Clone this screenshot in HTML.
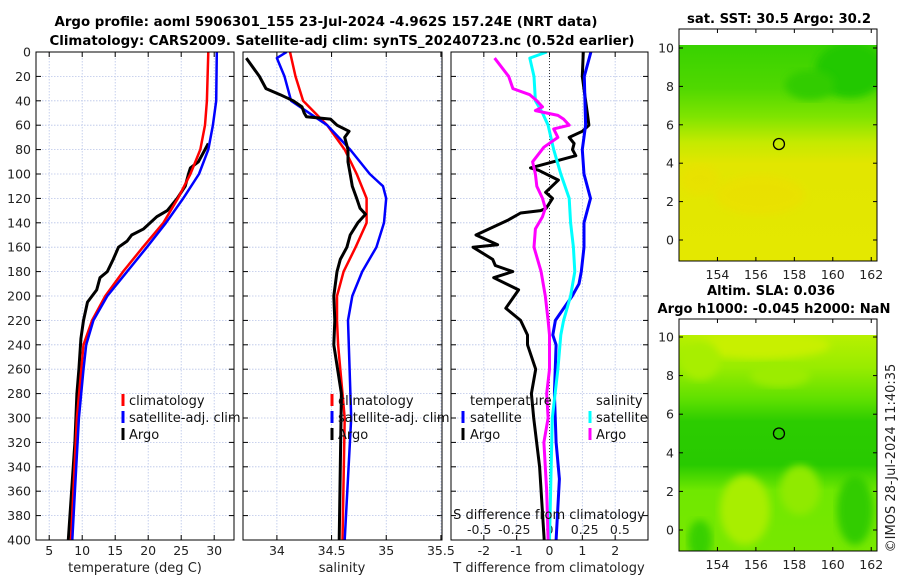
<!DOCTYPE html>
<html><head><meta charset="utf-8">
<style>
body{margin:0;background:#fff;}
svg{display:block;font-family:"DejaVu Sans","Liberation Sans",sans-serif;}
</style></head>
<body>
<svg id="fig" width="900" height="580" viewBox="0 0 900 580" xmlns="http://www.w3.org/2000/svg">
<defs>
<linearGradient id="sstg" x1="0" y1="0" x2="0" y2="1">
<stop offset="0" stop-color="#38d200"/><stop offset="0.2" stop-color="#50d800"/><stop offset="0.33" stop-color="#7ee400"/><stop offset="0.45" stop-color="#c4ea00"/><stop offset="0.55" stop-color="#e2e600"/><stop offset="1" stop-color="#e4e800"/>
</linearGradient>
<linearGradient id="slag" x1="0" y1="0" x2="0" y2="1">
<stop offset="0" stop-color="#b8f000"/><stop offset="0.15" stop-color="#98ec00"/><stop offset="0.3" stop-color="#5ee000"/><stop offset="0.4" stop-color="#2ccc00"/><stop offset="0.6" stop-color="#28ca00"/><stop offset="0.72" stop-color="#70e800"/><stop offset="1" stop-color="#78e800"/>
</linearGradient>
<filter id="blur"><feGaussianBlur stdDeviation="4"/></filter>
<clipPath id="c1"><rect x="36" y="52" width="198" height="488"/></clipPath>
<clipPath id="c2"><rect x="243" y="52" width="199" height="488"/></clipPath>
<clipPath id="c3"><rect x="451" y="52" width="197" height="488"/></clipPath>
<clipPath id="cm1"><rect x="679" y="45" width="198" height="216"/></clipPath>
<clipPath id="cm2"><rect x="679" y="335" width="198" height="216"/></clipPath>
</defs>
<g id="titles" font-weight="bold" font-size="13.5" text-anchor="middle">
<text x="326" y="26" textLength="543" lengthAdjust="spacingAndGlyphs">Argo profile: aoml 5906301_155 23-Jul-2024 -4.962S 157.24E (NRT data)</text>
<text x="342" y="45" textLength="585" lengthAdjust="spacingAndGlyphs">Climatology: CARS2009. Satellite-adj clim: synTS_20240723.nc (0.52d earlier)</text>
<text x="779" y="23" textLength="184" lengthAdjust="spacingAndGlyphs">sat. SST: 30.5 Argo: 30.2</text>
<text x="771" y="295" textLength="128" lengthAdjust="spacingAndGlyphs">Altim. SLA: 0.036</text>
<text x="774" y="313" textLength="233" lengthAdjust="spacingAndGlyphs">Argo h1000: -0.045 h2000: NaN</text>
</g>
<g id="axes"></g>
<g id="maps">
<rect x="679" y="29" width="198" height="232" fill="#fff" stroke="#000"/>
<g clip-path="url(#cm1)">
<rect x="679" y="45" width="198" height="216" fill="url(#sstg)"/>
<ellipse cx="850" cy="70" rx="35" ry="28" fill="#20c800" filter="url(#blur)"/>
<ellipse cx="810" cy="85" rx="25" ry="15" fill="#30cc00" filter="url(#blur)"/>
<ellipse cx="760" cy="195" rx="45" ry="20" fill="#f0dc00" filter="url(#blur)" opacity="0.5"/>
<ellipse cx="700" cy="180" rx="20" ry="15" fill="#f0dc00" filter="url(#blur)" opacity="0.4"/>
</g>
<rect x="679" y="319" width="198" height="232" fill="#fff" stroke="#000"/>
<g clip-path="url(#cm2)">
<rect x="679" y="335" width="198" height="216" fill="url(#slag)"/>
<ellipse cx="760" cy="345" rx="70" ry="14" fill="#c8f000" filter="url(#blur)"/>
<ellipse cx="700" cy="360" rx="20" ry="20" fill="#a8ee00" filter="url(#blur)"/>
<ellipse cx="780" cy="375" rx="30" ry="12" fill="#9cec00" filter="url(#blur)"/>
<ellipse cx="745" cy="510" rx="25" ry="35" fill="#a8ee00" filter="url(#blur)"/>
<ellipse cx="800" cy="490" rx="20" ry="25" fill="#90ea00" filter="url(#blur)"/>
<ellipse cx="855" cy="510" rx="18" ry="35" fill="#30cc00" filter="url(#blur)"/>
<ellipse cx="700" cy="540" rx="12" ry="20" fill="#38d000" filter="url(#blur)"/>
</g>
<rect x="679" y="29" width="198" height="232" fill="none" stroke="#000"/>
<rect x="679" y="319" width="198" height="232" fill="none" stroke="#000"/>
</g>
<text x="895" y="458" font-size="13" text-anchor="middle" transform="rotate(-90 895 458)" fill="#222">©IMOS 28-Jul-2024 11:40:35</text>
</svg>
<script>
// ---- data (depth in m) ----
const climT_depth=[0,20,40,60,80,100,120,140,160,180,200,220,240,300,400];
const climT_val=[29.1,29.0,28.9,28.6,27.9,26.4,24.5,22.3,19.2,16.2,13.5,11.5,10.2,9.2,8.3];
const satT_depth=[0,40,60,80,100,120,140,160,180,200,220,240,260,300,360,400];
const satT_val=[30.4,30.3,29.8,29.1,27.7,25.3,22.7,19.8,16.8,13.8,11.7,10.6,10.2,9.5,8.9,8.5];
const argoT_depth=[75,90,95,100,110,120,130,135,145,150,155,160,170,180,185,195,205,220,235,260,280,320,360,400];
const argoT_val=[29.1,27.6,26.4,26.1,25.6,24.4,22.9,21.3,19.3,17.5,16.8,15.5,14.7,13.8,12.7,12.2,10.8,10.2,9.8,9.5,9.2,8.9,8.4,7.9];
const climS_depth=[0,20,40,60,80,100,120,140,160,180,200,220,240,300,400];
const climS_val=[34.12,34.17,34.24,34.46,34.62,34.73,34.82,34.82,34.72,34.61,34.55,34.55,34.56,34.62,34.6];
const satS_depth=[0,5,20,40,60,80,100,110,120,140,160,180,200,220,300,400];
const satS_val=[34.09,34.0,34.07,34.13,34.46,34.67,34.85,34.97,35.0,34.98,34.91,34.78,34.69,34.65,34.68,34.62];
const argoS_depth=[5,20,30,35,40,45,50,53,55,60,65,70,80,90,100,110,120,128,133,140,150,160,170,180,200,220,240,280,400];
const argoS_val=[33.72,33.84,33.9,34.03,34.15,34.23,34.25,34.27,34.49,34.55,34.66,34.62,34.65,34.65,34.67,34.69,34.73,34.76,34.81,34.74,34.67,34.64,34.58,34.55,34.52,34.53,34.52,34.59,34.57];
const satdT_depth=[0,20,60,80,100,120,140,160,180,190,200,220,232,240,280,320,350,400];
const satdT_val=[1.26,1.06,1.1,1.0,1.05,1.25,1.05,1.05,0.97,0.9,0.69,0.18,0.1,0.2,0.15,0.2,0.3,0.2];
const argodT_depth=[0,20,40,50,60,65,70,75,80,85,95,97,105,115,120,128,130,132,138,150,158,160,170,175,180,185,195,210,220,232,240,260,280,300,340,400];
const argodT_val=[1.03,1.0,1.1,1.15,1.2,1.0,0.6,0.75,0.7,0.8,-0.58,-0.33,0.27,-0.12,0.09,-0.1,-0.27,-0.88,-1.28,-2.24,-1.58,-2.33,-1.73,-1.65,-1.12,-1.7,-0.94,-1.33,-0.88,-0.67,-0.67,-0.42,-0.55,-0.48,-0.3,-0.16];
const satdS_depth=[0,5,20,40,50,60,80,100,120,140,160,180,200,220,232,260,300,400];
const satdS_val=[-0.02,-0.14,-0.11,-0.1,-0.05,-0.01,0.03,0.08,0.14,0.15,0.17,0.18,0.15,0.1,0.08,0.06,0.02,0.0];
const argodS_depth=[5,20,30,35,40,45,48,52,55,60,63,70,78,90,100,110,120,128,135,145,160,180,200,220,232,260,280,300,320,360,400];
const argodS_val=[-0.39,-0.29,-0.26,-0.14,-0.09,-0.05,-0.1,0.06,0.1,0.14,0.03,0.06,-0.04,-0.12,-0.1,-0.09,-0.05,-0.03,-0.05,-0.1,-0.11,-0.06,-0.03,-0.01,0.0,0.0,-0.02,-0.01,-0.04,-0.02,-0.01];
const depthTicks=[0,20,40,60,80,100,120,140,160,180,200,220,240,260,280,300,320,340,360,380,400];
const tTicks=[5,10,15,20,25,30];
const sTicks=[34,34.5,35,35.5];
const sTickLabels=["34","34.5","35","35.5"];
const dTTicks=[-2,-1,0,1,2];
const dSTicks=[-0.5,-0.25,0,0.25,0.5];
const dSTickLabels=["-0.5","-0.25","0","0.25","0.5"];
const lonTicks=[154,156,158,160,162];
const latTicks=[0,2,4,6,8,10];
const argoLon=[157.2], argoLat=[5];

const NS='http://www.w3.org/2000/svg';
const svg=document.getElementById('fig');
const axes=document.getElementById('axes');
function mk(tag,attrs,parent){const e=document.createElementNS(NS,tag);for(const k in attrs)e.setAttribute(k,attrs[k]);(parent||axes).appendChild(e);return e;}
const Y0=52,Y1=540;
const yD=d=>Y0+d*(Y1-Y0)/400;
function xs(lo,hi,px0,px1){return v=>px0+(v-lo)*(px1-px0)/(hi-lo);}
const panels=[
 {x0:36,x1:234,clip:'c1',name:'temperature-panel'},
 {x0:243,x1:442,clip:'c2',name:'salinity-panel'},
 {x0:451,x1:648,clip:'c3',name:'difference-panel'}];
const xT=xs(3,33,36,234), xS=xs(33.69,35.51,243,442), xdT=xs(-3,3,451,648), xdS=xs(-0.7,0.7,451,648);

panels.forEach((p,i)=>{
  const g=mk('g',{});
  
  
  depthTicks.forEach(d=>{
    const l=mk('line',{x1:p.x0,x2:p.x1,y1:yD(d),y2:yD(d),stroke:'#b8c4e8','stroke-width':0.8,'stroke-dasharray':'1.5,1.5'},g);
    
    
    mk('line',{x1:p.x0,x2:p.x0+5,y1:yD(d),y2:yD(d),stroke:'#000'},g);
    mk('line',{x1:p.x1-5,x2:p.x1,y1:yD(d),y2:yD(d),stroke:'#000'},g);
  });
  p.g=g;
});
depthTicks.forEach(d=>{
  const t=mk('text',{x:31,y:yD(d)+4.5,'font-size':12.5,'text-anchor':'end',fill:'#222'});
  t.textContent=d;
  
  
});
function vgrid(g,xf,ticks,labels,ly){
  ticks.forEach((v,i)=>{
    const x=xf(v);
    const l=mk('line',{x1:x,x2:x,y1:Y0,y2:Y1,stroke:'#b8c4e8','stroke-width':0.8,'stroke-dasharray':'1.5,1.5'},g);
    
    
    mk('line',{x1:x,x2:x,y1:Y1-5,y2:Y1,stroke:'#000'},g);
    mk('line',{x1:x,x2:x,y1:Y0,y2:Y0+5,stroke:'#000'},g);
    if(ly){const t=mk('text',{x:x,y:ly,'font-size':12.5,'text-anchor':'middle',fill:'#222'},g);
      t.textContent=labels?labels[i]:v;
      
      }
  });
}
vgrid(panels[0].g,xT,tTicks,null,555);
vgrid(panels[1].g,xS,sTicks,sTickLabels,555);
vgrid(panels[2].g,xdT,dTTicks,null,555);
const z=mk('line',{x1:xdT(0),x2:xdT(0),y1:Y0,y2:Y1,stroke:'#333','stroke-width':1,'stroke-dasharray':'1,2'},panels[2].g);


dSTicks.forEach((v,i)=>{
  const t=mk('text',{x:xdS(v),y:534,'font-size':12.5,'text-anchor':'middle',fill:'#222'},panels[2].g);
  t.textContent=dSTickLabels[i];
  
  
});
function line(g,depths,vals,xf,color,w,clip,name){
  const pts=depths.map((d,i)=>xf(vals[i]).toFixed(1)+','+yD(d).toFixed(1)).join(' ');
  const pl=mk('polyline',{points:pts,fill:'none',stroke:color,'stroke-width':w,'stroke-linejoin':'round','clip-path':'url(#'+clip+')'},g);
  
  
}
line(panels[0].g,argoT_depth,argoT_val,xT,'#000',3,'c1','argo-temperature-line');
line(panels[0].g,climT_depth,climT_val,xT,'#f00',2.5,'c1','climatology-temperature-line');
line(panels[0].g,satT_depth,satT_val,xT,'#00f',2.5,'c1','satellite-temperature-line');
line(panels[1].g,climS_depth,climS_val,xS,'#f00',2.5,'c2','climatology-salinity-line');
line(panels[1].g,satS_depth,satS_val,xS,'#00f',2.5,'c2','satellite-salinity-line');
line(panels[1].g,argoS_depth,argoS_val,xS,'#000',3,'c2','argo-salinity-line');
line(panels[2].g,argodT_depth,argodT_val,xdT,'#000',3,'c3','argo-t-diff-line');
line(panels[2].g,satdT_depth,satdT_val,xdT,'#00f',3,'c3','satellite-t-diff-line');
line(panels[2].g,satdS_depth,satdS_val,xdS,'#0ff',3,'c3','satellite-s-diff-line');
line(panels[2].g,argodS_depth,argodS_val,xdS,'#f0f',3,'c3','argo-s-diff-line');
panels.forEach(p=>{mk('rect',{x:p.x0,y:Y0,width:p.x1-p.x0,height:Y1-Y0,fill:'none',stroke:'#000','stroke-width':1},p.g);});
function leg(mx,tx,y,color,label,name){
  const g=mk('g',{});
  
  
  if(color) mk('rect',{x:mx-1.5,y:y-11,width:3,height:12,fill:color},g);
  const t=mk('text',{x:tx,y:y,'font-size':13,fill:'#111'},g);t.textContent=label;
}
leg(123,129,405,'#f00','climatology','legend-entry-climatology');
leg(123,129,422,'#00f','satellite-adj. clim','legend-entry-satellite');
leg(123,129,439,'#000','Argo','legend-entry-argo');
leg(332,338,405,'#f00','climatology','legend-entry-climatology-s');
leg(332,338,422,'#00f','satellite-adj. clim','legend-entry-satellite-s');
leg(332,338,439,'#000','Argo','legend-entry-argo-s');
leg(0,470,405,null,'temperature','legend-title-temperature');
leg(463,470,422,'#00f','satellite','legend-entry-t-satellite');
leg(463,470,439,'#000','Argo','legend-entry-t-argo');
leg(0,596,405,null,'salinity','legend-title-salinity');
leg(590,596,422,'#0ff','satellite','legend-entry-s-satellite');
leg(590,596,439,'#f0f','Argo','legend-entry-s-argo');
[[135,'temperature (deg C)','x-axis-title-temperature'],[342,'salinity','x-axis-title-salinity'],[549,'T difference from climatology','x-axis-title-t-diff']].forEach(a=>{
  const t=mk('text',{x:a[0],y:572,'font-size':13,'text-anchor':'middle',fill:'#222'});t.textContent=a[1];
  
  
});
const sdt=mk('text',{x:549,y:519,'font-size':13,'text-anchor':'middle',fill:'#111'});sdt.textContent='S difference from climatology';


const maps=document.getElementById('maps');
const lonX=xs(152,162.3,679,877);
[[29,261,48,240,275],[319,551,337,530,565]].forEach((m,mi)=>{
  const latY=xs(0,10,m[3],m[2]);
  lonTicks.forEach(v=>{
    const x=lonX(v);
    mk('line',{x1:x,x2:x,y1:m[1]-4,y2:m[1],stroke:'#000'},maps);
    mk('line',{x1:x,x2:x,y1:m[0],y2:m[0]+4,stroke:'#000'},maps);
    const t=mk('text',{x:x,y:m[4]+4,'font-size':12.5,'text-anchor':'middle',fill:'#222'},maps);t.textContent=v;
    
    
  });
  latTicks.forEach(v=>{
    const y=latY(v);
    mk('line',{x1:679,x2:683,y1:y,y2:y,stroke:'#000'},maps);
    mk('line',{x1:873,x2:877,y1:y,y2:y,stroke:'#000'},maps);
    const t=mk('text',{x:674,y:y+4.5,'font-size':12.5,'text-anchor':'end',fill:'#222'},maps);t.textContent=v;
    
    
  });
  argoLon.forEach((lo,i)=>{
    const c=mk('circle',{cx:lonX(lo),cy:latY(argoLat[i]),r:5.5,fill:'none',stroke:'#000','stroke-width':1.3},maps);
    
    
  });
});
</script>
</body></html>
